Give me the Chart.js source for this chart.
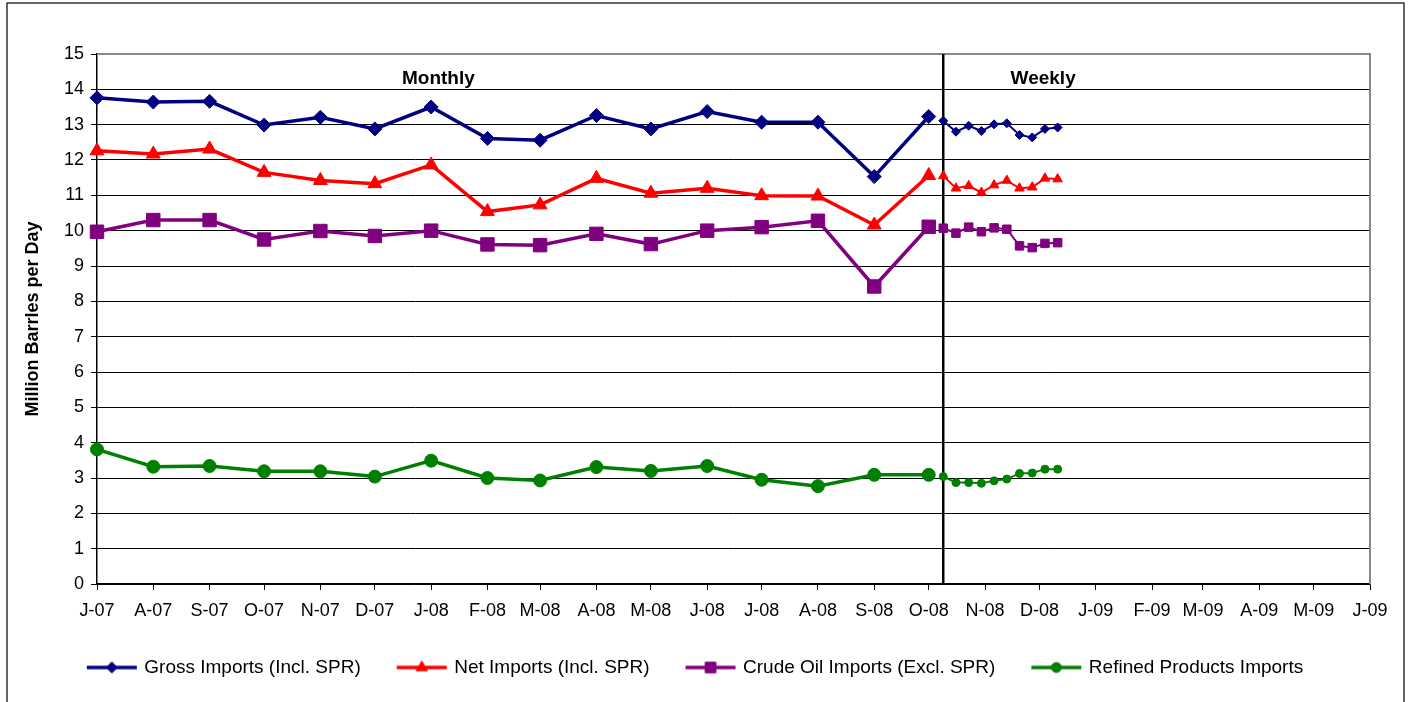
<!DOCTYPE html>
<html lang="en">
<head>
    <meta charset="UTF-8">
    <title>US Petroleum Imports</title>
    <script src="https://cdn.jsdelivr.net/npm/chart.js"></script>
    <style>
        body { margin: 0; background: #fff; }
    </style>
</head>
<body>
    <canvas id="importsChart" width="1408" height="702"></canvas>

    <script>
        // Axis categories (first day of each month) and tick labels
        const monthLabels = ['J-07', 'A-07', 'S-07', 'O-07', 'N-07', 'D-07', 'J-08', 'F-08', 'M-08', 'A-08', 'M-08', 'J-08',
                             'J-08', 'A-08', 'S-08', 'O-08', 'N-08', 'D-08', 'J-09', 'F-09', 'M-09', 'A-09', 'M-09', 'J-09'];
        const monthDates = ['2007-07-01', '2007-08-01', '2007-09-01', '2007-10-01', '2007-11-01', '2007-12-01',
                            '2008-01-01', '2008-02-01', '2008-03-01', '2008-04-01', '2008-05-01', '2008-06-01',
                            '2008-07-01', '2008-08-01', '2008-09-01', '2008-10-01', '2008-11-01', '2008-12-01',
                            '2009-01-01', '2009-02-01', '2009-03-01', '2009-04-01', '2009-05-01', '2009-06-01'];
        const weekDates = ['2008-10-09', '2008-10-16', '2008-10-23', '2008-10-30', '2008-11-06',
                           '2008-11-13', '2008-11-20', '2008-11-27', '2008-12-04', '2008-12-11'];

        const seriesNames = ['Gross Imports (Incl. SPR)', 'Net Imports (Incl. SPR)', 'Crude Oil Imports (Excl. SPR)', 'Refined Products Imports'];

        // Million barrels per day, monthly (Jul-07 .. Oct-08)
        const grossMonthly   = [13.76, 13.64, 13.66, 12.99, 13.21, 12.88, 13.50, 12.61, 12.56, 13.26, 12.88, 13.37, 13.07, 13.07, 11.53, 13.23];
        const netMonthly     = [12.26, 12.17, 12.31, 11.65, 11.42, 11.33, 11.86, 10.54, 10.73, 11.48, 11.06, 11.20, 10.99, 10.98, 10.16, 11.56];
        const crudeMonthly   = [9.97, 10.30, 10.30, 9.75, 9.99, 9.85, 10.00, 9.61, 9.59, 9.91, 9.62, 10.00, 10.10, 10.28, 8.42, 10.11];
        const refinedMonthly = [3.81, 3.32, 3.34, 3.19, 3.19, 3.04, 3.49, 3.00, 2.93, 3.31, 3.20, 3.34, 2.95, 2.77, 3.09, 3.09];

        // Weekly (Oct .. Dec 2008)
        const grossWeekly   = [13.11, 12.80, 12.97, 12.82, 13.01, 13.04, 12.71, 12.64, 12.88, 12.92];
        const netWeekly     = [11.55, 11.20, 11.27, 11.08, 11.29, 11.42, 11.20, 11.23, 11.48, 11.46];
        const crudeWeekly   = [10.07, 9.93, 10.10, 9.97, 10.08, 10.04, 9.57, 9.52, 9.64, 9.66];
        const refinedWeekly = [3.04, 2.87, 2.87, 2.85, 2.92, 2.97, 3.13, 3.14, 3.25, 3.25];

        const yTicks = [0, 1, 2, 3, 4, 5, 6, 7, 8, 9, 10, 11, 12, 13, 14, 15];

        // day number counted from the first month on the axis
        const base = Date.parse(monthDates[0]);
        const dayOf = s => Math.round((Date.parse(s) - base) / 86400000);
        const monthDays = monthDates.map(dayOf);
        const toPoints = (dates, values) => values.map((v, i) => ({ x: dayOf(dates[i]), y: v }));

        const FONT = "'Liberation Sans', Arial, sans-serif";
        Chart.defaults.font.family = FONT;
        Chart.defaults.color = '#000';

        const styles = [
            { color: '#000080', point: 'rectRot', r: 7, wr: 4.5, lr: 5.5 },
            { color: '#ff0000', point: 'triangle', r: 8, wr: 5.5, lr: 6.5 },
            { color: '#800080', point: 'rect', r: 9.5, wr: 6, lr: 7.5 },
            { color: '#008000', point: 'circle', r: 6.5, wr: 4, lr: 5 }
        ];
        const monthlySets = [grossMonthly, netMonthly, crudeMonthly, refinedMonthly];
        const weeklySets = [grossWeekly, netWeekly, crudeWeekly, refinedWeekly];

        const datasets = [];
        seriesNames.forEach((name, i) => {
            const s = styles[i];
            datasets.push({
                label: name,
                data: toPoints(monthDates, monthlySets[i]),
                borderColor: s.color, backgroundColor: s.color,
                borderWidth: 3.5, pointStyle: s.point, pointRadius: s.r,
                pointBorderWidth: 1, pointBackgroundColor: s.color, pointBorderColor: s.color,
                tension: 0, clip: false
            });
            datasets.push({
                label: name + ' weekly',
                data: toPoints(weekDates, weeklySets[i]),
                borderColor: s.color, backgroundColor: s.color,
                borderWidth: 2, pointStyle: s.point, pointRadius: s.wr,
                pointBorderWidth: 1, pointBackgroundColor: s.color, pointBorderColor: s.color,
                tension: 0, clip: false
            });
        });

        // legend icons: short line with the marker in the middle
        const legendIcons = styles.map(s => {
            const c = document.createElement('canvas');
            c.width = 52; c.height = 20;
            const g = c.getContext('2d');
            g.strokeStyle = s.color; g.fillStyle = s.color;
            g.lineWidth = 3.5;
            g.beginPath(); g.moveTo(1, 10); g.lineTo(51, 10); g.stroke();
            g.lineWidth = 1;
            Chart.helpers.drawPoint(g, { pointStyle: s.point, radius: s.lr, rotation: 0, borderWidth: 1 }, 26, 10);
            return c;
        });

        const decor = {
            id: 'decor',
            beforeDraw(chart) {
                const ctx = chart.ctx;
                ctx.save();
                ctx.strokeStyle = '#333';
                ctx.lineWidth = 1.5;
                ctx.beginPath();
                ctx.moveTo(7, 702); ctx.lineTo(7, 3); ctx.lineTo(1404, 3); ctx.lineTo(1404, 702);
                ctx.stroke();
                ctx.restore();
            },
            beforeDatasetsDraw(chart) {
                const { ctx, chartArea: a, scales: { x, y } } = chart;
                ctx.save();
                // top / right frame of plot area
                ctx.strokeStyle = '#888';
                ctx.lineWidth = 2;
                ctx.beginPath();
                ctx.moveTo(a.left, a.top); ctx.lineTo(a.right, a.top); ctx.lineTo(a.right, a.bottom);
                ctx.stroke();
                // monthly / weekly divider
                const xd = x.getPixelForValue(dayOf(weekDates[0]));
                ctx.strokeStyle = '#000';
                ctx.lineWidth = 2.5;
                ctx.beginPath(); ctx.moveTo(xd, a.top); ctx.lineTo(xd, a.bottom); ctx.stroke();
                ctx.fillStyle = '#000';
                ctx.font = 'bold 19px ' + FONT;
                ctx.textAlign = 'center';
                ctx.textBaseline = 'middle';
                ctx.fillText('Monthly', x.getPixelForValue(dayOf('2008-01-05')), y.getPixelForValue(14.3));
                ctx.fillText('Weekly', x.getPixelForValue(dayOf('2008-12-03')), y.getPixelForValue(14.3));
                ctx.restore();
            }
        };

        new Chart(document.getElementById('importsChart'), {
            type: 'line',
            data: { datasets },
            plugins: [decor],
            options: {
                responsive: false,
                animation: false,
                layout: { padding: { left: 22, right: 38, top: 54, bottom: 15 } },
                plugins: {
                    tooltip: { enabled: false },
                    legend: {
                        position: 'bottom',
                        labels: {
                            usePointStyle: true,
                            pointStyleWidth: 46,
                            padding: 38,
                            font: { size: 19 },
                            color: '#000',
                            generateLabels: () => seriesNames.map((name, i) => ({
                                text: name, pointStyle: legendIcons[i], datasetIndex: i * 2,
                                fillStyle: styles[i].color, strokeStyle: styles[i].color, lineWidth: 0, hidden: false
                            }))
                        }
                    }
                },
                scales: {
                    x: {
                        type: 'linear',
                        min: monthDays[0],
                        max: monthDays[monthDays.length - 1],
                        afterBuildTicks: scale => { scale.ticks = monthDays.map(v => ({ value: v })); },
                        afterFit: scale => { scale.height = 36; },
                        ticks: {
                            autoSkip: false, maxRotation: 0, padding: 10,
                            font: { size: 18 }, color: '#000',
                            callback: (v, i) => monthLabels[i]
                        },
                        grid: { drawOnChartArea: false, tickLength: 6, tickColor: '#000' },
                        border: { color: '#000', width: 1.5 }
                    },
                    y: {
                        min: 0, max: 15,
                        afterBuildTicks: scale => { scale.ticks = yTicks.map(v => ({ value: v })); },
                        afterFit: scale => { scale.width = 75; },
                        ticks: { padding: 7, font: { size: 18 }, color: '#000' },
                        grid: {
                            color: c => (c.tick && c.tick.value === 15) ? 'rgba(0,0,0,0)' : '#000',
                            tickColor: '#000', tickLength: 6, lineWidth: 1
                        },
                        border: { color: '#000', width: 1.5 },
                        title: {
                            display: true, text: 'Million Barrles per Day',
                            font: { size: 18, weight: 'bold' }, color: '#000',
                            padding: { top: 0, bottom: 0 }
                        }
                    }
                }
            }
        });
    </script>
</body>
</html>
